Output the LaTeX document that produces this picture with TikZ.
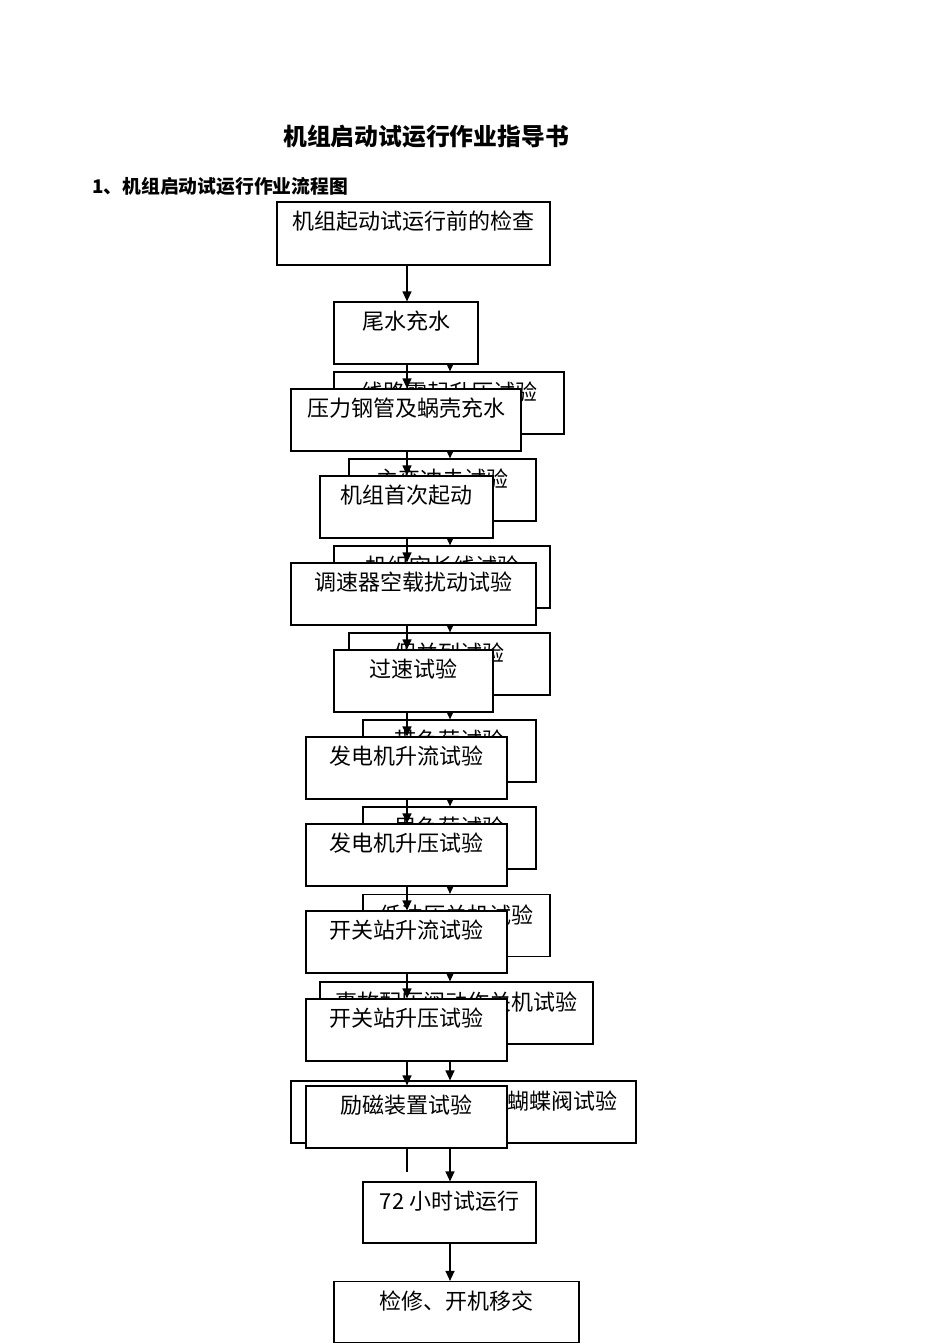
\documentclass[tikz,border=0pt]{standalone}
\usepackage{fontspec}
\setmainfont{Noto Sans CJK SC}
\usetikzlibrary{arrows.meta,calc}
\begin{document}
\begin{tikzpicture}[x=1pt,y=-1pt,
  box/.style={draw,fill=white,line width=1.2pt,minimum height=62pt,inner sep=0pt},
  txt/.style={inner sep=0pt,font=\fontsize{22}{25}\selectfont},
  arr/.style={line width=1.2pt,-{Triangle[length=10pt,width=9pt]}},
  plain/.style={line width=1.2pt}]
\useasboundingbox (0,0) rectangle (950,1344);
\fill[white] (0,0) rectangle (950,1344);
\node[inner sep=0pt,anchor=west,font=\fontsize{23.8}{26}\selectfont\bfseries] (title) at (283,137) {机组启动试运行作业指导书};
\node[inner sep=0pt,anchor=west,font=\fontsize{18.8}{21}\selectfont\bfseries] (sub) at (92,186) {1、机组启动试运行作业流程图};
\coordinate (lc) at (407,0);
\coordinate (rc) at (450,0);
% back column
\node[box,minimum width=230pt] (B1) at (449,403) {};
\node[txt] at ($(B1.north)+(0,21)$) {线路零起升压试验};
\node[box,minimum width=187pt] (B2) at (442.5,490) {};
\node[txt] at ($(B2.north)+(0,21)$) {主变冲击试验};
\node[box,minimum width=216pt] (B3) at (442,577) {};
\node[txt] at ($(B3.north)+(0,21)$) {机组空长线试验};
\node[box,minimum width=201pt] (B4) at (449.5,664) {};
\node[txt] at ($(B4.north)+(0,21)$) {假并列试验};
\node[box,minimum width=173pt] (B5) at (449.5,751) {};
\node[txt] at ($(B5.north)+(0,21)$) {带负荷试验};
\node[box,minimum width=173pt] (B6) at (449.5,838) {};
\node[txt] at ($(B6.north)+(0,21)$) {甩负荷试验};
\node[box,minimum width=187pt] (B7) at (456.5,925.5) {};
\node[txt] at ($(B7.north)+(0,21)$) {低油压关机试验};
\node[box,minimum width=273pt] (B8) at (456.5,1013) {};
\node[txt] at ($(B8.north)+(0,21)$) {事故配压阀动作关机试验};
\node[box,minimum width=345pt] (B9) at (463.5,1112) {};
\node[txt] at ($(B9.north)+(0,21)$) {机组进口快速闸门及蝴蝶阀试验};
\node[box,minimum width=173pt,minimum height=61pt] (B10) at (449.5,1212.5) {};
\node[txt] at ($(B10.north)+(0,20)$) {72 小时试运行};
\node[box,minimum width=245pt,minimum height=61pt] (B11) at (456.5,1312) {};
\node[txt] at ($(B11.north)+(0,20)$) {检修、开机移交};
% first front boxes
\node[box,minimum width=273pt,minimum height=63pt] (F1) at (413.5,233.5) {};
\node[txt] at ($(F1.north)+(0,20)$) {机组起动试运行前的检查};
\node[box,minimum width=144pt] (F2) at (406,333) {};
% back arrows
\draw[arr] (F2.south -| rc) -- (B1.north -| rc);
\draw[arr] (B1.south -| rc) -- (B2.north -| rc);
\draw[arr] (B2.south -| rc) -- (B3.north -| rc);
\draw[arr] (B3.south -| rc) -- (B4.north -| rc);
\draw[arr] (B4.south -| rc) -- (B5.north -| rc);
\draw[arr] (B5.south -| rc) -- (B6.north -| rc);
\draw[arr] (B6.south -| rc) -- (B7.north -| rc);
\draw[arr] (B7.south -| rc) -- (B8.north -| rc);
\draw[arr] (B8.south -| rc) -- (B9.north -| rc);
\draw[arr] (B9.south -| rc) -- (B10.north -| rc);
\draw[arr] (B10.south -| rc) -- (B11.north -| rc);
% front column
\node[box,minimum width=144pt] at (406,333) {};
\node[txt] at ($(F2.north)+(0,20)$) {尾水充水};
\node[box,minimum width=230pt] (F3) at (406,420) {};
\node[txt] at ($(F3.north)+(0,20)$) {压力钢管及蜗壳充水};
\node[box,minimum width=173pt] (F4) at (406.5,507) {};
\node[txt] at ($(F4.north)+(0,20)$) {机组首次起动};
\node[box,minimum width=245pt] (F5) at (413.5,594) {};
\node[txt] at ($(F5.north)+(0,20)$) {调速器空载扰动试验};
\node[box,minimum width=159pt] (F6) at (413.5,681) {};
\node[txt] at ($(F6.north)+(0,20)$) {过速试验};
\node[box,minimum width=201pt] (F7) at (406.5,768) {};
\node[txt] at ($(F7.north)+(0,20)$) {发电机升流试验};
\node[box,minimum width=201pt] (F8) at (406.5,855) {};
\node[txt] at ($(F8.north)+(0,20)$) {发电机升压试验};
\node[box,minimum width=201pt] (F9) at (406.5,942) {};
\node[txt] at ($(F9.north)+(0,20)$) {开关站升流试验};
\node[box,minimum width=201pt] (F10) at (406.5,1030) {};
\node[txt] at ($(F10.north)+(0,20)$) {开关站升压试验};
\node[box,minimum width=201pt] (F11) at (406.5,1117) {};
\node[txt] at ($(F11.north)+(0,20)$) {励磁装置试验};
% front arrows
\draw[arr] (F1.south -| lc) -- (F2.north -| lc);
\draw[arr] (F2.south -| lc) -- (F3.north -| lc);
\draw[arr] (F3.south -| lc) -- (F4.north -| lc);
\draw[arr] (F4.south -| lc) -- (F5.north -| lc);
\draw[arr] (F5.south -| lc) -- (F6.north -| lc);
\draw[arr] (F6.south -| lc) -- (F7.north -| lc);
\draw[arr] (F7.south -| lc) -- (F8.north -| lc);
\draw[arr] (F8.south -| lc) -- (F9.north -| lc);
\draw[arr] (F9.south -| lc) -- (F10.north -| lc);
\draw[arr] (F10.south -| lc) -- (F11.north -| lc);
\coordinate (lend) at (407,1172);
\draw[plain] (F11.south -| lc) -- (lend);
\end{tikzpicture}
\end{document}
